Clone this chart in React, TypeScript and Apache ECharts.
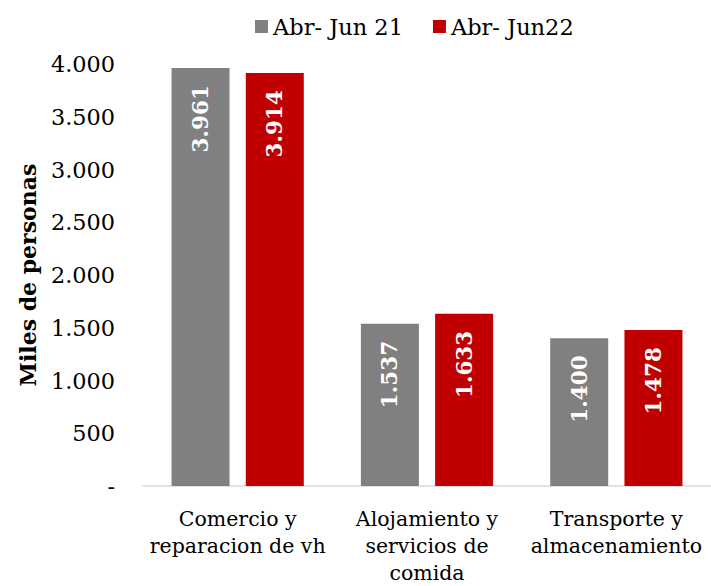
import React, { useEffect, useRef } from "react";
import * as echarts from "echarts";

const categories = ["Comercio y\nreparacion de vh", "Alojamiento y\nservicios de\ncomida", "Transporte y\nalmacenamiento"];
const seriesNames = ["Abr- Jun 21", "Abr- Jun22"];
const values2021 = [3961, 1537, 1400];
const values2022 = [3914, 1633, 1478];
const colors = ["#808080", "#C00000"];

const FONT = "DejaVu Serif";

function fmt(v: number): string {
  if (v === 0) return "-";
  const s = Math.round(v).toString();
  return s.replace(/\B(?=(\d{3})+(?!\d))/g, ".");
}

export default function App() {
  const ref = useRef<HTMLDivElement>(null);
  useEffect(() => {
    document.body.style.margin = "0";
    document.body.style.overflow = "hidden";
    if (!ref.current) return;
    const chart = echarts.init(ref.current, null, { renderer: "svg" });
    const mkSeries = (name: string, data: number[], color: string) => ({
      name,
      type: "bar",
      data,
      barWidth: 58,
      barGap: "28%",
      itemStyle: { color },
      label: {
        show: true,
        position: "insideTop",
        distance: 17,
        rotate: 90,
        align: "right",
        verticalAlign: "middle",
        color: "#ffffff",
        fontFamily: FONT,
        fontSize: 21.5,
        fontWeight: "bold",
        formatter: (p: any) => fmt(p.value),
      },
    });
    chart.setOption({
      animation: false,
      textStyle: { fontFamily: FONT },
      legend: {
        top: 10,
        left: 250,
        itemWidth: 13,
        itemHeight: 13,
        itemGap: 30,
        icon: "rect",
        textStyle: { fontFamily: FONT, fontSize: 22.5, color: "#000" },
        data: seriesNames,
      },
      grid: { left: 143, top: 64, width: 576, bottom: 96, containLabel: false },
      xAxis: {
        type: "category",
        data: categories,
        axisLine: { lineStyle: { color: "#d9d9d9", width: 1.5 } },
        axisTick: { show: false },
        axisLabel: {
          fontFamily: FONT,
          fontSize: 20.5,
          color: "#000",
          lineHeight: 27,
          margin: 19,
          interval: 0,
        },
      },
      yAxis: {
        type: "value",
        min: 0,
        max: 4000,
        interval: 500,
        name: "Miles de personas",
        nameLocation: "middle",
        nameGap: 104,
        nameRotate: 90,
        nameTextStyle: { fontFamily: FONT, fontSize: 22, fontWeight: "bold", color: "#000" },
        axisLine: { show: false },
        axisTick: { show: false },
        splitLine: { show: false },
        axisLabel: {
          fontFamily: FONT,
          fontSize: 22.4,
          color: "#000",
          margin: 28,
          formatter: (v: number) => fmt(v),
        },
      },
      series: [
        mkSeries(seriesNames[0], values2021, colors[0]),
        mkSeries(seriesNames[1], values2022, colors[1]),
      ],
    });
    return () => chart.dispose();
  }, []);
  return <div ref={ref} style={{ width: 711, height: 586 }} />;
}
